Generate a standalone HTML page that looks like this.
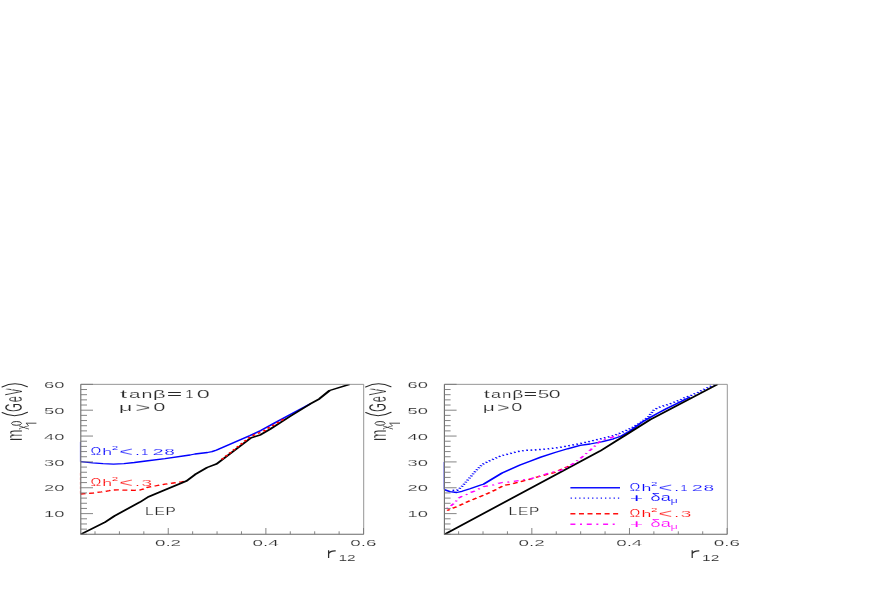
<!DOCTYPE html>
<html><head><meta charset="utf-8"><title>plot</title>
<style>
html,body{margin:0;padding:0;background:#fff;}
body{width:872px;height:599px;overflow:hidden;font-family:"Liberation Sans",sans-serif;}
svg{display:block;font-family:"Liberation Sans",sans-serif;}
</style></head><body>
<svg width="872" height="599" viewBox="0 0 872 599">
<rect width="872" height="599" fill="#fff"/>
<g opacity="0.999">
<path d="M80.35 441.9 V461.7" stroke="#4040ff" stroke-width="0.8" opacity="0.8"/>
<path d="M80.3 473 V494" stroke="#ff4040" stroke-width="0.8" opacity="0.6" stroke-dasharray="2.6,1.9"/>
<clipPath id="c0"><rect x="80.20" y="384.05" width="283.90" height="150.85"/></clipPath>
<g clip-path="url(#c0)"><g transform="scale(1,0.530)">
<polyline points="80.80,871.13 92.70,873.40 103.00,874.91 113.50,875.66 124.00,874.72 134.40,872.64 146.00,869.81 165.00,865.28 190.00,858.49 195.00,856.60 207.50,853.77 212.00,852.08 216.70,849.06 234.00,834.91 250.10,821.70 260.90,812.08 275.00,797.55 290.00,782.26 305.00,767.17 310.00,762.26" fill="none" stroke="#0000ff" stroke-width="2.45" stroke-linejoin="round"/>
<polyline points="80.60,932.08 93.10,930.19 101.40,928.11 109.40,925.85 112.70,924.53 117.70,924.34 126.10,924.91 134.40,925.09 140.00,924.53 144.00,922.26 147.50,919.43 155.00,916.98 165.00,913.58 173.40,911.32 181.70,909.25 186.70,907.36" fill="none" stroke="#ff0000" stroke-width="2.45" stroke-linejoin="round" stroke-dasharray="5,3.55" stroke-dashoffset="0.00"/>
<polyline points="80.80,1008.11 104.40,986.04 114.40,973.58 140.00,947.36 148.30,937.55 165.00,924.34 186.70,907.36 195.00,895.47 207.10,882.08 216.70,875.09 250.90,826.23 260.50,820.38 270.00,809.81 290.00,785.66 310.00,762.45 319.20,752.64 329.60,736.79 349.60,725.09" fill="none" stroke="#000" stroke-width="2.70" stroke-linejoin="round"/>
<polyline points="221.70,866.79 236.00,845.66 250.10,824.34 256.70,818.49 263.40,813.77 268.80,806.98 274.60,801.13 280.00,794.91 285.00,789.43" fill="none" stroke="#ff0000" stroke-width="2.45" stroke-linejoin="round" stroke-dasharray="3.2,3.6" stroke-dashoffset="0.00"/>
</g></g>
<path d="M80.80 384.35 H363.70 V534.30" fill="none" stroke="#8a8a8a" stroke-width="0.9"/>
<path d="M80.80 384.35 V534.30 H363.70" fill="none" stroke="#6a6a6a" stroke-width="1.1"/>
<path d="M80.80 534.30 h6.20 M80.80 529.13 h6.20 M80.80 523.96 h6.20 M80.80 518.79 h6.20 M80.80 513.62 h12.20 M80.80 508.45 h6.20 M80.80 503.28 h6.20 M80.80 498.11 h6.20 M80.80 492.93 h6.20 M80.80 487.76 h12.20 M80.80 482.59 h6.20 M80.80 477.42 h6.20 M80.80 472.25 h6.20 M80.80 467.08 h6.20 M80.80 461.91 h12.20 M80.80 456.74 h6.20 M80.80 451.57 h6.20 M80.80 446.40 h6.20 M80.80 441.23 h6.20 M80.80 436.06 h12.20 M80.80 430.89 h6.20 M80.80 425.72 h6.20 M80.80 420.54 h6.20 M80.80 415.37 h6.20 M80.80 410.20 h12.20 M80.80 405.03 h6.20 M80.80 399.86 h6.20 M80.80 394.69 h6.20 M80.80 389.52 h6.20 M80.80 384.35 h12.20" fill="none" stroke="#777" stroke-width="0.9"/>
<path d="M95.01 534.30 v-3.00 M119.42 534.30 v-3.00 M143.83 534.30 v-3.00 M168.24 534.30 v-6.30 M192.65 534.30 v-3.00 M217.06 534.30 v-3.00 M241.47 534.30 v-3.00 M265.88 534.30 v-6.30 M290.29 534.30 v-3.00 M314.70 534.30 v-3.00 M339.11 534.30 v-3.00 M363.52 534.30 v-6.30" fill="none" stroke="#777" stroke-width="0.9"/>
<g transform="translate(44.00,517.27) scale(1.930,1)"><text x="0" y="0" font-size="9.50" fill="#2a2a2a" letter-spacing="0.00" stroke="#fff" stroke-width="0.14" >10</text></g>

<g transform="translate(44.00,491.41) scale(1.930,1)"><text x="0" y="0" font-size="9.50" fill="#2a2a2a" letter-spacing="0.00" stroke="#fff" stroke-width="0.14" >20</text></g>

<g transform="translate(44.00,465.56) scale(1.930,1)"><text x="0" y="0" font-size="9.50" fill="#2a2a2a" letter-spacing="0.00" stroke="#fff" stroke-width="0.14" >30</text></g>

<g transform="translate(44.00,439.71) scale(1.930,1)"><text x="0" y="0" font-size="9.50" fill="#2a2a2a" letter-spacing="0.00" stroke="#fff" stroke-width="0.14" >40</text></g>

<g transform="translate(44.00,413.85) scale(1.930,1)"><text x="0" y="0" font-size="9.50" fill="#2a2a2a" letter-spacing="0.00" stroke="#fff" stroke-width="0.14" >50</text></g>

<g transform="translate(44.00,388.00) scale(1.930,1)"><text x="0" y="0" font-size="9.50" fill="#2a2a2a" letter-spacing="0.00" stroke="#fff" stroke-width="0.14" >60</text></g>

<g transform="translate(154.94,545.60) scale(1.980,1)"><text x="0" y="0" font-size="9.50" fill="#2a2a2a" letter-spacing="0.00" stroke="#fff" stroke-width="0.14" >0.2</text></g>

<g transform="translate(252.58,545.60) scale(1.980,1)"><text x="0" y="0" font-size="9.50" fill="#2a2a2a" letter-spacing="0.00" stroke="#fff" stroke-width="0.14" >0.4</text></g>

<g transform="translate(350.22,545.60) scale(1.980,1)"><text x="0" y="0" font-size="9.50" fill="#2a2a2a" letter-spacing="0.00" stroke="#fff" stroke-width="0.14" >0.6</text></g>

<path d="M328.60 550.2 V557.9 M328.60 553.8 C329.60 551.7 332.00 550.7 335.70 550.9" fill="none" stroke="#2e2e2e" stroke-width="1.25"/>
<g transform="translate(338.40,560.60) scale(1.900,1)"><text x="0" y="0" font-size="8.20" fill="#2a2a2a" letter-spacing="0.00" stroke="#fff" stroke-width="0.12" >12</text></g>

<text transform="translate(21.90,441.00) rotate(-90) scale(0.610,1)" font-size="22.50" fill="#2a2a2a" stroke="#fff" stroke-width="0.30">m</text>
<text transform="translate(26.30,429.40) rotate(-90) scale(0.660,1)" font-size="12.30" fill="#2a2a2a" stroke="#fff" stroke-width="0.10">&#967;</text>
<path d="M36.40 423.2 H25.90 M26.10 423.3 L28.30 425.3" fill="none" stroke="#3a3a3a" stroke-width="0.9"/>
<ellipse cx="16.50" cy="423.4" rx="5.0" ry="1.9" fill="none" stroke="#2a2a2a" stroke-width="0.95"/>
<path d="M2.10 412.5 Q14.70 419.1 27.50 412.3 M2.00 387.0 Q14.70 380.8 27.40 386.7" fill="none" stroke="#2a2a2a" stroke-width="1.05" stroke-linecap="round"/>
<text transform="translate(22.30,411.7) rotate(-90) scale(0.45,1)" font-size="24.4" fill="#2a2a2a" stroke="#fff" stroke-width="0.2" letter-spacing="2">GeV</text>
<text transform="translate(123.50,398.00) scale(2.300,1)" text-anchor="middle" font-size="11.20" fill="#2a2a2a" stroke="#fff" stroke-width="0.16">t</text>
<text transform="translate(134.70,398.00) scale(1.850,1)" text-anchor="middle" font-size="11.20" fill="#2a2a2a" stroke="#fff" stroke-width="0.16">a</text>
<text transform="translate(147.00,398.00) scale(1.750,1)" text-anchor="middle" font-size="11.20" fill="#2a2a2a" stroke="#fff" stroke-width="0.16">n</text>
<text transform="translate(159.30,398.00) scale(2.000,1)" text-anchor="middle" font-size="11.20" fill="#2a2a2a" stroke="#fff" stroke-width="0.16">&#946;</text>
<text transform="translate(174.50,397.79) scale(2.350,1)" text-anchor="middle" font-size="11.20" fill="#2a2a2a" stroke="#fff" stroke-width="0.04">=</text>
<text transform="translate(174.50,398.21) scale(2.350,1)" text-anchor="middle" font-size="11.20" fill="#2a2a2a" stroke="#fff" stroke-width="0.04">=</text>
<text transform="translate(189.50,398.00) scale(1.350,1)" text-anchor="middle" font-size="11.20" fill="#2a2a2a" stroke="#fff" stroke-width="0.16">1</text>
<text transform="translate(203.20,398.00) scale(2.100,1)" text-anchor="middle" font-size="11.20" fill="#2a2a2a" stroke="#fff" stroke-width="0.16">0</text>

<text transform="translate(125.70,410.70) scale(2.300,1)" text-anchor="middle" font-size="10.40" fill="#2a2a2a" stroke="#fff" stroke-width="0.15">&#956;</text>
<text transform="translate(142.90,411.70) scale(2.000,1)" text-anchor="middle" font-size="13.00" fill="#2a2a2a" stroke="#fff" stroke-width="0.19">&gt;</text>
<text transform="translate(159.30,410.70) scale(2.100,1)" text-anchor="middle" font-size="10.40" fill="#2a2a2a" stroke="#fff" stroke-width="0.15">0</text>

<text transform="translate(95.80,455.20) scale(1.400,1)" text-anchor="middle" font-size="10.30" fill="#0808ff" stroke="#fff" stroke-width="0.15">&#937;</text>
<text transform="translate(107.10,455.20) scale(1.900,1)" text-anchor="middle" font-size="9.30" fill="#0808ff" stroke="#fff" stroke-width="0.14">h</text>
<text transform="translate(115.00,450.30) scale(2.000,1)" text-anchor="middle" font-size="5.80" fill="#0808ff" stroke="#fff" stroke-width="0.08">2</text>
<text transform="translate(126.30,456.10) scale(1.950,1)" text-anchor="middle" font-size="12.20" fill="#0808ff" stroke="#fff" stroke-width="0.18">&lt;</text>
<text transform="translate(137.40,455.20) scale(1.900,1)" text-anchor="middle" font-size="9.30" fill="#0808ff" stroke="#fff" stroke-width="0.14">.</text>
<text transform="translate(144.80,455.20) scale(1.350,1)" text-anchor="middle" font-size="9.30" fill="#0808ff" stroke="#fff" stroke-width="0.14">1</text>
<text transform="translate(158.10,455.20) scale(2.150,1)" text-anchor="middle" font-size="9.30" fill="#0808ff" stroke="#fff" stroke-width="0.14">2</text>
<text transform="translate(169.60,455.20) scale(2.050,1)" text-anchor="middle" font-size="9.30" fill="#0808ff" stroke="#fff" stroke-width="0.14">8</text>

<text transform="translate(95.80,485.70) scale(1.400,1)" text-anchor="middle" font-size="10.30" fill="#ff0808" stroke="#fff" stroke-width="0.15">&#937;</text>
<text transform="translate(107.10,485.70) scale(1.900,1)" text-anchor="middle" font-size="9.30" fill="#ff0808" stroke="#fff" stroke-width="0.14">h</text>
<text transform="translate(115.00,480.80) scale(2.000,1)" text-anchor="middle" font-size="5.80" fill="#ff0808" stroke="#fff" stroke-width="0.08">2</text>
<text transform="translate(126.30,486.60) scale(1.950,1)" text-anchor="middle" font-size="12.20" fill="#ff0808" stroke="#fff" stroke-width="0.18">&lt;</text>
<text transform="translate(137.40,485.70) scale(1.900,1)" text-anchor="middle" font-size="9.30" fill="#ff0808" stroke="#fff" stroke-width="0.14">.</text>
<text transform="translate(146.90,485.70) scale(2.050,1)" text-anchor="middle" font-size="9.30" fill="#ff0808" stroke="#fff" stroke-width="0.14">3</text>

<g transform="translate(145.00,514.50) scale(1.550,1)"><text x="0" y="0" font-size="10.00" fill="#2a2a2a" letter-spacing="0.50" stroke="#fff" stroke-width="0.15" >LEP</text></g>

<path d="M443.85 462 V489.4" stroke="#4040ff" stroke-width="0.8" opacity="0.8"/>
<clipPath id="c363"><rect x="443.80" y="384.05" width="283.90" height="150.85"/></clipPath>
<g clip-path="url(#c363)"><g transform="scale(1,0.530)">
<polyline points="452.50,925.28 457.10,925.09 461.70,918.30 470.00,900.94 475.00,890.00 482.10,876.60 488.40,870.38 495.00,864.91 501.70,859.62 509.20,856.23 517.10,852.26 525.10,849.81 533.40,849.06 546.70,847.17 559.20,844.34 575.10,838.87 588.40,833.40 602.50,827.17 614.20,821.70 623.40,814.53 631.70,807.55 640.00,797.92 648.40,786.23 653.80,773.77 657.50,769.81 660.80,767.55 667.90,763.21 672.10,760.38 678.80,755.66 685.00,750.19 691.70,745.47 698.40,740.00 705.10,733.58 711.70,728.11 715.00,726.23" fill="none" stroke="#0000ff" stroke-width="2.80" stroke-linejoin="round" stroke-dasharray="1.7,2.6" stroke-dashoffset="0.00"/>
<polyline points="444.30,923.77 450.00,927.55 456.70,929.25 462.00,926.98 470.00,922.08 480.80,915.09 483.40,913.58 502.10,892.45 520.00,877.55 530.00,870.19 540.80,862.45 555.00,853.77 567.50,846.79 580.10,840.38 590.00,837.74 602.50,833.40 613.40,827.92 620.90,823.21 630.00,813.21 641.70,796.98 650.00,787.74 658.40,779.06 666.70,770.75 675.00,763.21 685.00,753.96 690.00,749.06" fill="none" stroke="#0000ff" stroke-width="2.45" stroke-linejoin="round"/>
<polyline points="447.10,963.21 457.50,955.28 470.50,944.34 484.20,933.96 497.60,922.26 503.80,915.85 510.00,913.96 530.00,904.15 538.30,899.43 554.20,891.70 567.50,880.57 570.00,878.30" fill="none" stroke="#ff0000" stroke-width="2.45" stroke-linejoin="round" stroke-dasharray="5,3.55" stroke-dashoffset="1.60"/>
<polyline points="444.30,1008.30 600.00,851.13 620.90,826.42 625.00,821.70 650.00,791.89 717.60,725.09" fill="none" stroke="#000" stroke-width="2.70" stroke-linejoin="round"/>
<polyline points="447.10,959.25 451.30,953.77 455.00,948.11 458.40,940.00 462.10,936.42 466.70,932.83 470.90,929.06 475.00,926.23 479.20,922.26 483.40,918.30 488.00,916.79 493.40,914.91 498.40,911.89 502.60,910.38 508.40,909.62 520.00,906.23 531.70,902.64 539.20,898.68 546.70,893.96 561.70,886.79 567.50,880.57 573.00,875.09 582.60,861.70 590.90,848.30 595.00,841.32 599.60,833.40 605.40,828.68 612.50,824.72 619.20,820.75" fill="none" stroke="#ff00ff" stroke-width="2.45" stroke-linejoin="round" stroke-dasharray="5,4.6,2,4.75" stroke-dashoffset="10.10"/>
</g></g>
<path d="M444.40 384.35 H727.30 V534.30" fill="none" stroke="#8a8a8a" stroke-width="0.9"/>
<path d="M444.40 384.35 V534.30 H727.30" fill="none" stroke="#6a6a6a" stroke-width="1.1"/>
<path d="M444.40 534.30 h6.20 M444.40 529.13 h6.20 M444.40 523.96 h6.20 M444.40 518.79 h6.20 M444.40 513.62 h12.20 M444.40 508.45 h6.20 M444.40 503.28 h6.20 M444.40 498.11 h6.20 M444.40 492.93 h6.20 M444.40 487.76 h12.20 M444.40 482.59 h6.20 M444.40 477.42 h6.20 M444.40 472.25 h6.20 M444.40 467.08 h6.20 M444.40 461.91 h12.20 M444.40 456.74 h6.20 M444.40 451.57 h6.20 M444.40 446.40 h6.20 M444.40 441.23 h6.20 M444.40 436.06 h12.20 M444.40 430.89 h6.20 M444.40 425.72 h6.20 M444.40 420.54 h6.20 M444.40 415.37 h6.20 M444.40 410.20 h12.20 M444.40 405.03 h6.20 M444.40 399.86 h6.20 M444.40 394.69 h6.20 M444.40 389.52 h6.20 M444.40 384.35 h12.20" fill="none" stroke="#777" stroke-width="0.9"/>
<path d="M458.61 534.30 v-3.00 M483.02 534.30 v-3.00 M507.43 534.30 v-3.00 M531.84 534.30 v-6.30 M556.25 534.30 v-3.00 M580.66 534.30 v-3.00 M605.07 534.30 v-3.00 M629.48 534.30 v-6.30 M653.89 534.30 v-3.00 M678.30 534.30 v-3.00 M702.71 534.30 v-3.00 M727.12 534.30 v-6.30" fill="none" stroke="#777" stroke-width="0.9"/>
<g transform="translate(407.60,517.27) scale(1.930,1)"><text x="0" y="0" font-size="9.50" fill="#2a2a2a" letter-spacing="0.00" stroke="#fff" stroke-width="0.14" >10</text></g>

<g transform="translate(407.60,491.41) scale(1.930,1)"><text x="0" y="0" font-size="9.50" fill="#2a2a2a" letter-spacing="0.00" stroke="#fff" stroke-width="0.14" >20</text></g>

<g transform="translate(407.60,465.56) scale(1.930,1)"><text x="0" y="0" font-size="9.50" fill="#2a2a2a" letter-spacing="0.00" stroke="#fff" stroke-width="0.14" >30</text></g>

<g transform="translate(407.60,439.71) scale(1.930,1)"><text x="0" y="0" font-size="9.50" fill="#2a2a2a" letter-spacing="0.00" stroke="#fff" stroke-width="0.14" >40</text></g>

<g transform="translate(407.60,413.85) scale(1.930,1)"><text x="0" y="0" font-size="9.50" fill="#2a2a2a" letter-spacing="0.00" stroke="#fff" stroke-width="0.14" >50</text></g>

<g transform="translate(407.60,388.00) scale(1.930,1)"><text x="0" y="0" font-size="9.50" fill="#2a2a2a" letter-spacing="0.00" stroke="#fff" stroke-width="0.14" >60</text></g>

<g transform="translate(518.54,545.60) scale(1.980,1)"><text x="0" y="0" font-size="9.50" fill="#2a2a2a" letter-spacing="0.00" stroke="#fff" stroke-width="0.14" >0.2</text></g>

<g transform="translate(616.18,545.60) scale(1.980,1)"><text x="0" y="0" font-size="9.50" fill="#2a2a2a" letter-spacing="0.00" stroke="#fff" stroke-width="0.14" >0.4</text></g>

<g transform="translate(713.82,545.60) scale(1.980,1)"><text x="0" y="0" font-size="9.50" fill="#2a2a2a" letter-spacing="0.00" stroke="#fff" stroke-width="0.14" >0.6</text></g>

<path d="M692.20 550.2 V557.9 M692.20 553.8 C693.20 551.7 695.60 550.7 699.30 550.9" fill="none" stroke="#2e2e2e" stroke-width="1.25"/>
<g transform="translate(702.00,560.60) scale(1.900,1)"><text x="0" y="0" font-size="8.20" fill="#2a2a2a" letter-spacing="0.00" stroke="#fff" stroke-width="0.12" >12</text></g>

<text transform="translate(385.50,441.00) rotate(-90) scale(0.610,1)" font-size="22.50" fill="#2a2a2a" stroke="#fff" stroke-width="0.30">m</text>
<text transform="translate(389.90,429.40) rotate(-90) scale(0.660,1)" font-size="12.30" fill="#2a2a2a" stroke="#fff" stroke-width="0.10">&#967;</text>
<path d="M400.00 423.2 H389.50 M389.70 423.3 L391.90 425.3" fill="none" stroke="#3a3a3a" stroke-width="0.9"/>
<ellipse cx="380.10" cy="423.4" rx="5.0" ry="1.9" fill="none" stroke="#2a2a2a" stroke-width="0.95"/>
<path d="M365.70 412.5 Q378.30 419.1 391.10 412.3 M365.60 387.0 Q378.30 380.8 391.00 386.7" fill="none" stroke="#2a2a2a" stroke-width="1.05" stroke-linecap="round"/>
<text transform="translate(385.90,411.7) rotate(-90) scale(0.45,1)" font-size="24.4" fill="#2a2a2a" stroke="#fff" stroke-width="0.2" letter-spacing="2">GeV</text>
<text transform="translate(486.80,398.00) scale(1.950,1)" text-anchor="middle" font-size="11.20" fill="#2a2a2a" stroke="#fff" stroke-width="0.16">t</text>
<text transform="translate(496.10,398.00) scale(1.600,1)" text-anchor="middle" font-size="11.20" fill="#2a2a2a" stroke="#fff" stroke-width="0.16">a</text>
<text transform="translate(506.60,398.00) scale(1.500,1)" text-anchor="middle" font-size="11.20" fill="#2a2a2a" stroke="#fff" stroke-width="0.16">n</text>
<text transform="translate(517.80,398.00) scale(1.720,1)" text-anchor="middle" font-size="11.20" fill="#2a2a2a" stroke="#fff" stroke-width="0.16">&#946;</text>
<text transform="translate(530.40,397.79) scale(2.050,1)" text-anchor="middle" font-size="11.20" fill="#2a2a2a" stroke="#fff" stroke-width="0.04">=</text>
<text transform="translate(530.40,398.21) scale(2.050,1)" text-anchor="middle" font-size="11.20" fill="#2a2a2a" stroke="#fff" stroke-width="0.04">=</text>
<text transform="translate(543.50,398.00) scale(1.850,1)" text-anchor="middle" font-size="11.20" fill="#2a2a2a" stroke="#fff" stroke-width="0.16">5</text>
<text transform="translate(554.70,398.00) scale(1.900,1)" text-anchor="middle" font-size="11.20" fill="#2a2a2a" stroke="#fff" stroke-width="0.16">0</text>

<text transform="translate(488.70,410.70) scale(2.050,1)" text-anchor="middle" font-size="10.20" fill="#2a2a2a" stroke="#fff" stroke-width="0.15">&#956;</text>
<text transform="translate(503.20,411.60) scale(1.800,1)" text-anchor="middle" font-size="12.00" fill="#2a2a2a" stroke="#fff" stroke-width="0.18">&gt;</text>
<text transform="translate(516.70,410.70) scale(1.950,1)" text-anchor="middle" font-size="10.20" fill="#2a2a2a" stroke="#fff" stroke-width="0.15">0</text>

<g transform="translate(508.60,514.50) scale(1.550,1)"><text x="0" y="0" font-size="10.00" fill="#2a2a2a" letter-spacing="0.50" stroke="#fff" stroke-width="0.15" >LEP</text></g>

<path d="M570.4 487.75 H620" stroke="#1010ff" stroke-width="1.6"/>
<path d="M570.6 498.1 H620" stroke="#1010ff" stroke-width="1.25" stroke-dasharray="1.3,3.0"/>
<path d="M570.4 513.75 H618.5" stroke="#ff1010" stroke-width="1.6" stroke-dasharray="5,3.55"/>
<path d="M570.4 524.2 H619" stroke="#ff10ff" stroke-width="1.5" stroke-dasharray="5,4.6,2,4.75"/>
<text transform="translate(635.00,490.80) scale(1.400,1)" text-anchor="middle" font-size="10.30" fill="#0808ff" stroke="#fff" stroke-width="0.15">&#937;</text>
<text transform="translate(646.30,490.80) scale(1.900,1)" text-anchor="middle" font-size="9.30" fill="#0808ff" stroke="#fff" stroke-width="0.14">h</text>
<text transform="translate(654.20,485.90) scale(2.000,1)" text-anchor="middle" font-size="5.80" fill="#0808ff" stroke="#fff" stroke-width="0.08">2</text>
<text transform="translate(665.50,491.70) scale(1.950,1)" text-anchor="middle" font-size="12.20" fill="#0808ff" stroke="#fff" stroke-width="0.18">&lt;</text>
<text transform="translate(676.60,490.80) scale(1.900,1)" text-anchor="middle" font-size="9.30" fill="#0808ff" stroke="#fff" stroke-width="0.14">.</text>
<text transform="translate(684.00,490.80) scale(1.350,1)" text-anchor="middle" font-size="9.30" fill="#0808ff" stroke="#fff" stroke-width="0.14">1</text>
<text transform="translate(697.30,490.80) scale(2.150,1)" text-anchor="middle" font-size="9.30" fill="#0808ff" stroke="#fff" stroke-width="0.14">2</text>
<text transform="translate(708.80,490.80) scale(2.050,1)" text-anchor="middle" font-size="9.30" fill="#0808ff" stroke="#fff" stroke-width="0.14">8</text>

<text transform="translate(636.60,501.99) scale(1.950,1)" text-anchor="middle" font-size="11.20" fill="#0808ff" stroke="#fff" stroke-width="0.04">+</text>
<text transform="translate(636.60,502.41) scale(1.950,1)" text-anchor="middle" font-size="11.20" fill="#0808ff" stroke="#fff" stroke-width="0.04">+</text>
<text transform="translate(655.40,501.30) scale(1.800,1)" text-anchor="middle" font-size="10.40" fill="#0808ff" stroke="#fff" stroke-width="0.15">&#948;</text>
<text transform="translate(665.70,501.30) scale(1.750,1)" text-anchor="middle" font-size="10.40" fill="#0808ff" stroke="#fff" stroke-width="0.15">a</text>
<text transform="translate(674.20,503.30) scale(2.000,1)" text-anchor="middle" font-size="6.40" fill="#0808ff" stroke="#fff" stroke-width="0.09">&#956;</text>

<text transform="translate(635.00,516.60) scale(1.400,1)" text-anchor="middle" font-size="10.30" fill="#ff0808" stroke="#fff" stroke-width="0.15">&#937;</text>
<text transform="translate(646.30,516.60) scale(1.900,1)" text-anchor="middle" font-size="9.30" fill="#ff0808" stroke="#fff" stroke-width="0.14">h</text>
<text transform="translate(654.20,511.70) scale(2.000,1)" text-anchor="middle" font-size="5.80" fill="#ff0808" stroke="#fff" stroke-width="0.08">2</text>
<text transform="translate(665.50,517.50) scale(1.950,1)" text-anchor="middle" font-size="12.20" fill="#ff0808" stroke="#fff" stroke-width="0.18">&lt;</text>
<text transform="translate(676.60,516.60) scale(1.900,1)" text-anchor="middle" font-size="9.30" fill="#ff0808" stroke="#fff" stroke-width="0.14">.</text>
<text transform="translate(686.10,516.60) scale(2.050,1)" text-anchor="middle" font-size="9.30" fill="#ff0808" stroke="#fff" stroke-width="0.14">3</text>

<text transform="translate(636.60,527.59) scale(1.950,1)" text-anchor="middle" font-size="11.20" fill="#ff08ff" stroke="#fff" stroke-width="0.04">+</text>
<text transform="translate(636.60,528.01) scale(1.950,1)" text-anchor="middle" font-size="11.20" fill="#ff08ff" stroke="#fff" stroke-width="0.04">+</text>
<text transform="translate(655.40,526.90) scale(1.800,1)" text-anchor="middle" font-size="10.40" fill="#ff08ff" stroke="#fff" stroke-width="0.15">&#948;</text>
<text transform="translate(665.70,526.90) scale(1.750,1)" text-anchor="middle" font-size="10.40" fill="#ff08ff" stroke="#fff" stroke-width="0.15">a</text>
<text transform="translate(674.20,528.90) scale(2.000,1)" text-anchor="middle" font-size="6.40" fill="#ff08ff" stroke="#fff" stroke-width="0.09">&#956;</text>

</g>
</svg>
</body></html>
